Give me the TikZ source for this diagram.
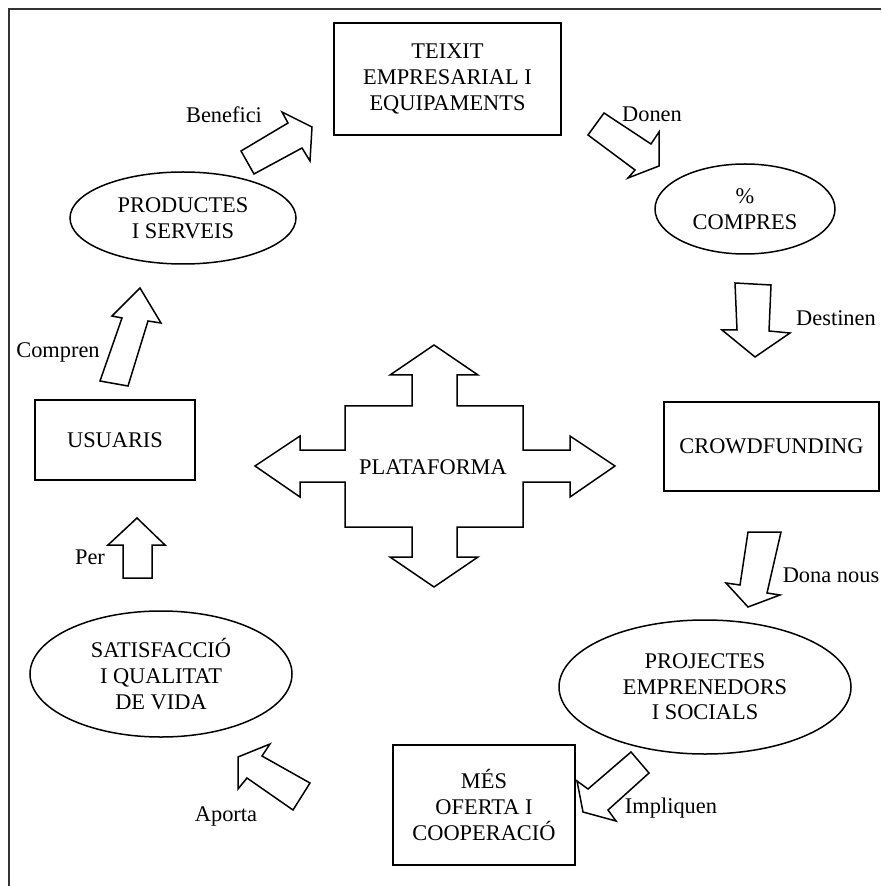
\documentclass[tikz,border=0pt]{standalone}
\usepackage{fontspec}
\setmainfont{Liberation Serif}
\usetikzlibrary{shapes.geometric}
\tikzset{
    rectbox/.style={draw, line width=0.75pt, align=center, inner sep=0pt},
    ovalbox/.style={draw, ellipse, line width=0.75pt, align=center, inner sep=0pt},
    blockarrow/.style={draw, line width=0.75pt, line join=miter, fill=white},
}
\begin{document}
\begin{tikzpicture}[x=0.5pt, y=-0.5pt, font=\fontsize{11.2}{12.8}\selectfont]
                \useasboundingbox (0,0) rectangle (881,886);

                % 枠
                \draw[line width=0.6pt, black!80] (881,9) -- (9,9) -- (9,886);

                % 四角と楕円
                \node[rectbox, minimum width=113.5pt, minimum height=56pt] (teixit) at (447.5,79) {TEIXIT\\EMPRESARIAL I\\EQUIPAMENTS};
                \node[ovalbox, minimum width=90pt, minimum height=45pt] (compres) at (745,209) {\%\\COMPRES};
                \node[rectbox, minimum width=107.5pt, minimum height=44.5pt] (crowd) at (771.5,446.5) {CROWDFUNDING};
                \node[ovalbox, minimum width=146pt, minimum height=67pt] (projectes) at (705,687) {PROJECTES\\EMPRENEDORS\\I SOCIALS};
                \node[rectbox, minimum width=91pt, minimum height=60pt] (oferta) at (484,805) {MÉS\\OFERTA I\\COOPERACIÓ};
                \node[ovalbox, minimum width=131pt, minimum height=63pt] (satisf) at (161,674) {SATISFACCIÓ\\I QUALITAT\\DE VIDA};
                \node[rectbox, minimum width=80pt, minimum height=40pt] (usuaris) at (115,440) {USUARIS};
                \node[ovalbox, minimum width=113pt, minimum height=46pt] (productes) at (183,218) {PRODUCTES\\I SERVEIS};

                % 矢印
                \draw[blockarrow] (241,151) -- (288,123) -- (282,112) -- (312,127) -- (310,161) -- (302,148) -- (254,174) -- cycle;
                \draw[blockarrow] (604,113) -- (651,144) -- (659,132) -- (659,166) -- (628,178) -- (635,170) -- (588,135) -- cycle;
                \draw[blockarrow] (735,283) -- (771,285) -- (769,331) -- (790,333) -- (755,357) -- (722,330) -- (737,330) -- cycle;
                \draw[blockarrow] (748,532) -- (781,532) -- (767,593) -- (780,595) -- (748,607) -- (726,583) -- (740,585) -- cycle;
                \draw[blockarrow] (631,752) -- (649,773) -- (608,810) -- (616,821) -- (583,812) -- (577,781) -- (588,789) -- cycle;
                \draw[blockarrow] (310,783) -- (293,810) -- (247,778) -- (238,789) -- (238,757) -- (270,744) -- (262,756) -- cycle;
                \draw[blockarrow] (123,578) -- (152,578) -- (152,545) -- (165,545) -- (137,518) -- (108,545) -- (123,545) -- cycle;
                \draw[blockarrow] (100,381) -- (128,386) -- (148,321) -- (161,323) -- (140,288) -- (112,316) -- (122,318) -- cycle;

                \node (benefici) at (224,115) {Benefici};
                \node (donen) at (652,114) {Donen};
                \node (destinen) at (836,318) {Destinen};
                \node (donanous) at (831,575) {Dona nous};
                \node (impliquen) at (671,808) {Impliquen};
                \node (aporta) at (226,816) {Aporta};
                \node (per) at (90,557) {Per};
                \node (compren) at (58,352) {Compren};

                % 十字の矢印
                \draw[blockarrow] (434,345) -- (478,375) -- (457,375) -- (457,406) -- (523,406) -- (523,450)
                        -- (570,450) -- (570,436) -- (615,466) -- (570,497) -- (570,482) -- (523,482)
                        -- (523,527) -- (457,527) -- (457,557) -- (478,557) -- (434,587) -- (390,557)
                        -- (412,557) -- (412,527) -- (345,527) -- (345,482) -- (300,482) -- (300,497)
                        -- (255,466) -- (300,436) -- (300,450) -- (345,450) -- (345,406) -- (412,406)
                        -- (412,375) -- (390,375) -- cycle;
                \node (plataforma) at (433,467) {PLATAFORMA};
            \end{tikzpicture}
\end{document}
